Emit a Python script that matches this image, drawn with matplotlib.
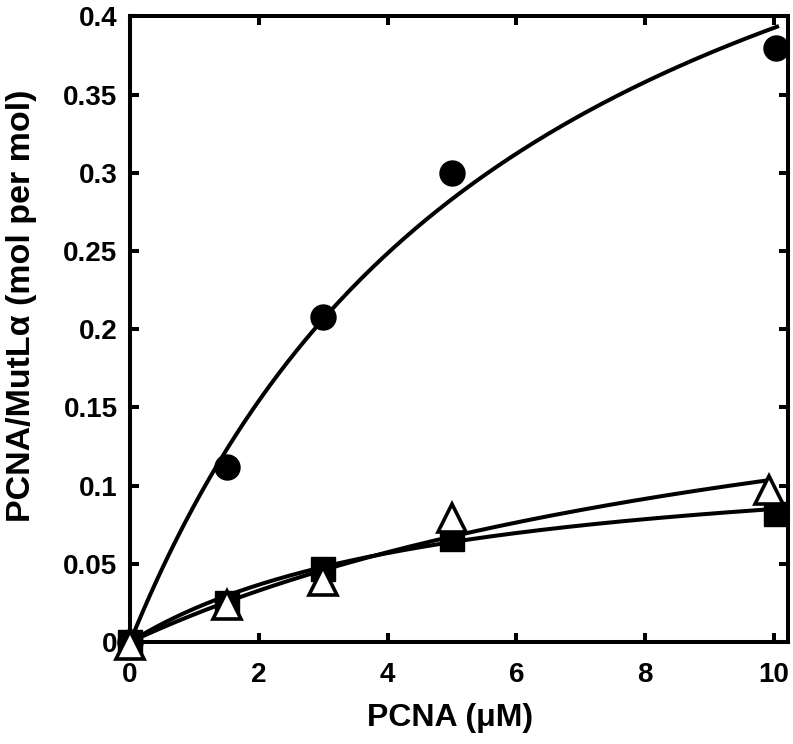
import numpy as np
import matplotlib
matplotlib.use("Agg")
import matplotlib.pyplot as plt

plt.rcParams["font.family"] = ["Liberation Sans", "DejaVu Sans"]
plt.rcParams["font.weight"] = "bold"

# -------------------------------
# Data
# -------------------------------
circle_x = [0, 1.5, 3, 5, 10.03]
circle_y = [0, 0.112, 0.208, 0.300, 0.380]

square_x = [0, 1.5, 3, 5, 10.03]
square_y = [0, 0.025, 0.047, 0.066, 0.082]

triangle_x = [0, 1.5, 3, 5, 9.92]
triangle_y = [-0.002, 0.024, 0.039, 0.079, 0.097]

# hyperbolic fits: y = bmax * x / (kd + x)
circle_fit = {"bmax": 0.640, "kd": 6.30, "xmax": 10.05}
square_fit = {"bmax": 0.127, "kd": 4.93, "xmax": 10.0}
triangle_fit = {"bmax": 0.2255, "kd": 11.7, "xmax": 9.9}


def fit_curve(p):
    x = np.linspace(0, p["xmax"], 300)
    return x, p["bmax"] * x / (p["kd"] + x)


fig = plt.figure(figsize=(7.93, 7.44), dpi=100)
ax = fig.add_axes([0.164, 0.137, 0.8297, 0.841])

for p in (circle_fit, square_fit, triangle_fit):
    cx, cy = fit_curve(p)
    ax.plot(cx, cy, color="black", lw=2.9, clip_on=False, zorder=2)

ax.plot(circle_x, circle_y, "o", ms=18, color="black", clip_on=False, zorder=3)
ax.plot(square_x, square_y, "s", ms=17, color="black", clip_on=False, zorder=3)
ax.plot(triangle_x, triangle_y, "^", ms=20, mfc="white", mec="black", mew=2.6,
        clip_on=False, zorder=4)

ax.set_xlim(0, 10.22)
ax.set_ylim(0, 0.4)
ax.set_xticks([0, 2, 4, 6, 8, 10])
ax.set_yticks([0, 0.05, 0.1, 0.15, 0.2, 0.25, 0.3, 0.35, 0.4])
ax.set_yticklabels(["0", "0.05", "0.1", "0.15", "0.2", "0.25", "0.3", "0.35", "0.4"])

ax.tick_params(direction="in", length=6.7, width=2.9, labelsize=20,
               top=True, right=True)
ax.tick_params(axis="x", pad=14)
ax.tick_params(axis="y", pad=9)
for s in ax.spines.values():
    s.set_linewidth(2.9)

ax.set_xlabel("PCNA (μM)", fontsize=23, fontweight="bold")
ax.set_ylabel("PCNA/MutLα (mol per mol)", fontsize=24.5, fontweight="bold")
ax.xaxis.set_label_coords(0.486, -0.097)
ax.yaxis.set_label_coords(-0.141, 0.537)

fig.savefig("out.png", dpi=100)
